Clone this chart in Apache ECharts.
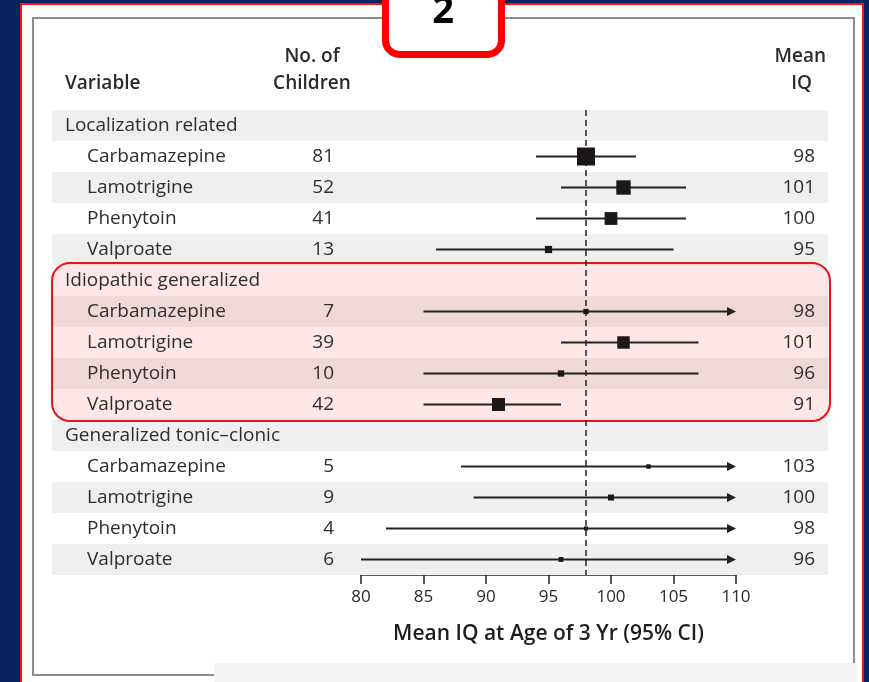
<!DOCTYPE html>
<html>
<head>
<meta charset="utf-8">
<script src="https://cdn.jsdelivr.net/npm/echarts@6/dist/echarts.min.js"></script>
<style>html,body{margin:0;padding:0;background:#0a2463;}#c{width:869px;height:682px;}</style>
</head>
<body>
<div id="c"></div>
<script>
// ---- data ----
const rowLabels = ['Localization related','Carbamazepine','Lamotrigine','Phenytoin','Valproate',
  'Idiopathic generalized','Carbamazepine','Lamotrigine','Phenytoin','Valproate',
  'Generalized tonic\u2013clonic','Carbamazepine','Lamotrigine','Phenytoin','Valproate'];
const counts = [null,81,52,41,13, null,7,39,10,42, null,5,9,4,6];
const meanIQ = [null,98,101,100,95, null,98,101,96,91, null,103,100,98,96];
const ciLow  = [null,94,96,94,86, null,85,96,85,85, null,88,89,82,80];
const ciHigh = [null,102,106,106,105, null,110,107,107,96, null,110,110,110,110];
const ciBeyondAxis = [false,false,false,false,false, false,true,false,false,false, false,true,true,true,true];
const xTicks = [80,85,90,95,100,105,110];
const refLine = 98;
const highlightRows = [5, 9];

const TXT = '#2e2e2e';
const rowFont = '19px "Open Sans", "Noto Sans", sans-serif';
const headFont = '600 19px "Open Sans", "Noto Sans", sans-serif';

const chart = echarts.init(document.getElementById('c'), null, {renderer:'canvas'});

const rowData = rowLabels.map((l, i) => [i, meanIQ[i], ciLow[i], ciHigh[i]]);

function bandItem(params, api) {
  const i = api.value(0);
  if (i % 2 !== 0) return null;
  const c = api.coord([80, i]);
  const h = api.size([0, 1])[1];
  return {type:'rect', shape:{x:52, y:c[1]-h/2, width:776, height:h}, style:{fill:'#efefef'}};
}

function pinkItem(params, api) {
  const a = api.coord([80, api.value(0)]);
  const b = api.coord([80, api.value(1)]);
  const h = api.size([0, 1])[1];
  const y0 = a[1] - h/2 - 2, y1 = b[1] + h/2 + 1;
  return {type:'rect', shape:{x:52, y:y0, width:778, height:y1-y0, r:18},
    style:{fill:'rgba(255,40,40,0.11)', stroke:'#e8121a', lineWidth:2}};
}

function rowItem(params, api) {
  const i = params.dataIndex;
  const cy = api.coord([80, i])[1];
  const children = [];
  const isGroup = counts[i] === null;
  children.push({type:'text', style:{text:rowLabels[i], x:isGroup?65:87, y:cy, textAlign:'left', textVerticalAlign:'middle', font:rowFont, fill:TXT}});
  if (!isGroup) {
    children.push({type:'text', style:{text:String(counts[i]), x:334, y:cy, textAlign:'right', textVerticalAlign:'middle', font:rowFont, fill:TXT}});
    children.push({type:'text', style:{text:String(meanIQ[i]), x:815, y:cy, textAlign:'right', textVerticalAlign:'middle', font:rowFont, fill:TXT}});
    const xl = api.coord([ciLow[i], i])[0];
    let xh = api.coord([ciHigh[i], i])[0];
    if (ciBeyondAxis[i]) {
      children.push({type:'polygon', shape:{points:[[xh-9, cy-4.5],[xh, cy],[xh-9, cy+4.5]]}, style:{fill:'#222'}});
      xh = xh - 8;
    }
    children.push({type:'line', shape:{x1:xl, y1:cy, x2:xh, y2:cy}, style:{stroke:'#222', lineWidth:2}});
    const s = 2*Math.sqrt(counts[i]);
    const xm = api.coord([meanIQ[i], i])[0];
    children.push({type:'rect', shape:{x:xm-s/2, y:cy-s/2, width:s, height:s}, style:{fill:'#1c1818'}});
  }
  return {type:'group', children};
}

const option = {
  backgroundColor:'#0a2463',
  animation:false,
  grid:{left:361, right:133, top:110, bottom:107},
  xAxis:{type:'value', min:80, max:110, interval:5,
    axisLine:{show:true, lineStyle:{color:'#222', width:1.5}},
    axisTick:{show:true, length:9, lineStyle:{color:'#222', width:1.5}},
    axisLabel:{color:'#2a2a2a', fontSize:17, fontFamily:'"Open Sans", "Noto Sans", sans-serif', margin:14,
      customValues: xTicks},
    splitLine:{show:false},
    name:'Mean IQ at Age of 3 Yr (95% CI)', nameLocation:'middle', nameGap:49,
    nameTextStyle:{color:'#1e1e1e', fontSize:21, fontWeight:600, fontFamily:'"Open Sans", "Noto Sans", sans-serif'}
  },
  yAxis:{type:'category', data:rowLabels, inverse:true, show:false},
  graphic:[
    {type:'rect', z:-20, shape:{x:21, y:4, width:842, height:700}, style:{fill:'#ffffff', stroke:'#ff1010', lineWidth:2}},
    {type:'rect', z:-19, shape:{x:33, y:18, width:821, height:657}, style:{fill:'none', stroke:'#8c8c8c', lineWidth:2}},
    {type:'rect', z:50, shape:{x:214, y:663, width:643, height:30}, style:{fill:'#f4f4f4'}},
    {type:'rect', z:60, shape:{x:385.5, y:-30, width:116, height:84.5, r:14}, style:{fill:'#ffffff', stroke:'#ff0000', lineWidth:7}},
    {type:'text', z:61, style:{text:'2', x:443, y:31, textAlign:'center', textVerticalAlign:'bottom', font:'bold 38px "Open Sans", "Noto Sans", sans-serif', fill:'#000'}},
    {type:'text', z:40, style:{text:'Variable', x:65, y:84, textAlign:'left', textVerticalAlign:'middle', font:headFont, fill:'#2a2a2a'}},
    {type:'text', z:40, style:{text:'No. of', x:312, y:57, textAlign:'center', textVerticalAlign:'middle', font:headFont, fill:'#2a2a2a'}},
    {type:'text', z:40, style:{text:'Children', x:312, y:84, textAlign:'center', textVerticalAlign:'middle', font:headFont, fill:'#2a2a2a'}},
    {type:'text', z:40, style:{text:'Mean', x:826, y:57, textAlign:'right', textVerticalAlign:'middle', font:headFont, fill:'#2a2a2a'}},
    {type:'text', z:40, style:{text:'IQ', x:812, y:84, textAlign:'right', textVerticalAlign:'middle', font:headFont, fill:'#2a2a2a'}}
  ],
  series:[
    {type:'custom', z:1, clip:false, silent:true, data:rowData, encode:{x:1, y:0}, renderItem:bandItem},
    {type:'custom', z:2, clip:false, silent:true, data:[highlightRows], encode:{y:[0,1]}, renderItem:pinkItem},
    {type:'custom', z:4, clip:false, silent:true, data:rowData, encode:{x:[1,2,3], y:0}, renderItem:rowItem,
      markLine:{silent:true, symbol:'none', label:{show:false}, z:3,
        lineStyle:{color:'#222', type:[6,4], width:1.5},
        data:[{xAxis:refLine}]}}
  ]
};
chart.setOption(option);
</script>
</body>
</html>
